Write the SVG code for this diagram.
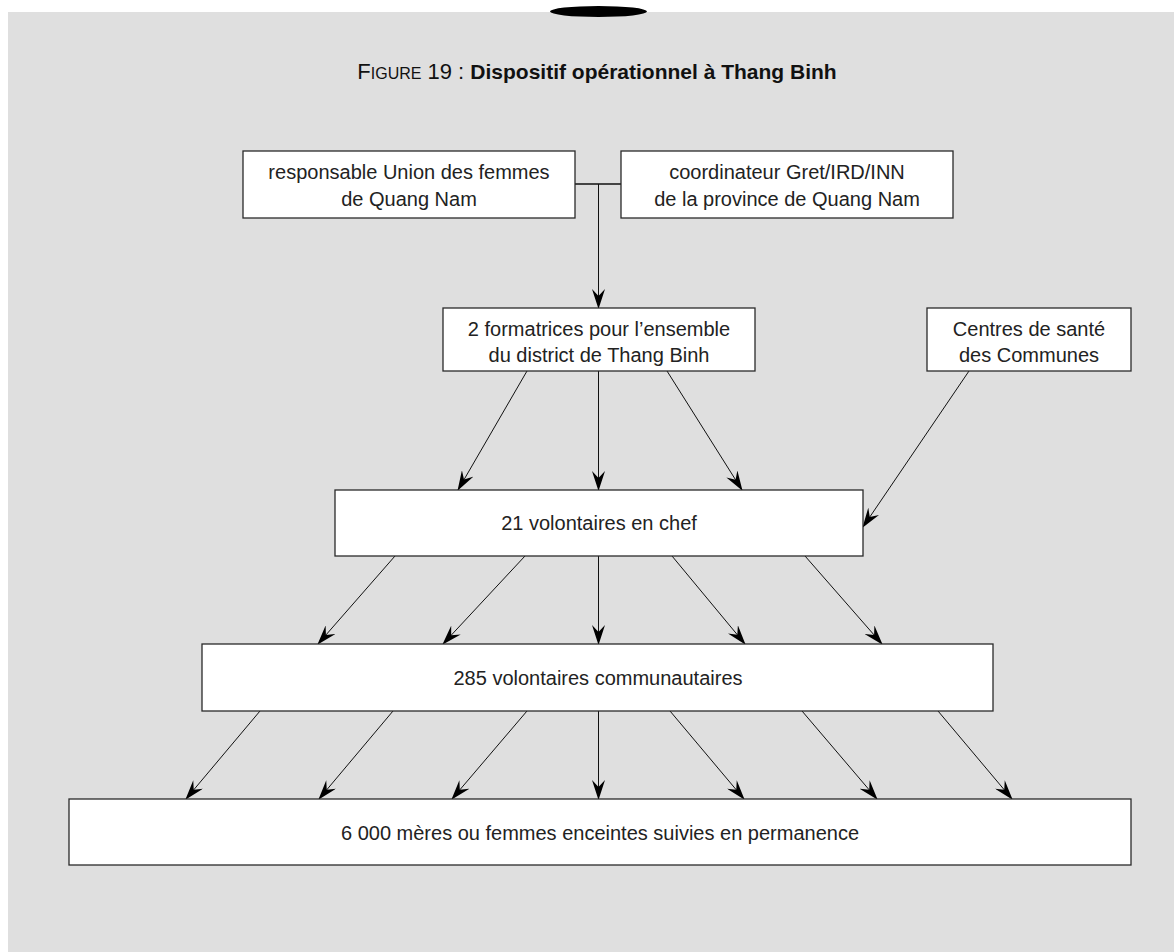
<svg xmlns="http://www.w3.org/2000/svg" width="1174" height="952" viewBox="0 0 1174 952">
  <style>
    .box { fill: #ffffff; stroke: #2a2a2a; stroke-width: 1.3; }
    .lbl { font-family: "Liberation Sans", Arial, sans-serif; font-size: 20px; fill: #222222; text-anchor: middle; }
    .edge { fill: none; stroke: #111111; stroke-width: 1; marker-end: url(#arrow); }
    .title { font-family: "Liberation Sans", Arial, sans-serif; fill: #111111; }
  </style>
  <defs>
    <!-- notched filled arrowhead -->
    <marker id="arrow" markerUnits="userSpaceOnUse" viewBox="0 0 20 13" markerWidth="20" markerHeight="13" refX="19" refY="6.5" orient="auto">
      <path d="M0,0 L20,6.5 L0,13 L7,6.5 Z" fill="#000000"/>
    </marker>
  </defs>

  <!-- page background -->
  <rect x="8" y="12" width="1166" height="940" fill="#dfdfdf"/>
  <ellipse cx="598.5" cy="11.5" rx="48.5" ry="5.5" fill="#000000"/>

  <!-- heading -->
  <text class="title" x="597" y="79" text-anchor="middle" font-size="21"><tspan font-size="22" font-weight="300">F</tspan><tspan font-size="16" font-weight="300">IGURE</tspan><tspan font-size="22" font-weight="300"> 19 : </tspan><tspan font-weight="bold">Dispositif opérationnel à Thang Binh</tspan></text>

  <!-- connectors -->
  <g id="connectors">
    <path d="M575,184 H621" fill="none" stroke="#111" stroke-width="1.3"/>
    <path d="M598.5,184 V308" class="edge" stroke-width="1.3"/>

    <path d="M527,371 L458,490" class="edge"/>
    <path d="M598.5,371 V490" class="edge"/>
    <path d="M667,371 L742,490" class="edge"/>
    <path d="M969,371 L863,527" class="edge"/>

    <path d="M395,556 L318,644" class="edge"/>
    <path d="M525,556 L443,644" class="edge"/>
    <path d="M598.5,556 V644" class="edge"/>
    <path d="M672,556 L745,644" class="edge"/>
    <path d="M805,556 L882,644" class="edge"/>

    <path d="M260,711 L186,799" class="edge"/>
    <path d="M393,711 L319,799" class="edge"/>
    <path d="M527,711 L452,799" class="edge"/>
    <path d="M598.5,711 V799" class="edge"/>
    <path d="M670,711 L744,799" class="edge"/>
    <path d="M802,711 L877,799" class="edge"/>
    <path d="M938,711 L1012,799" class="edge"/>
  </g>

  <g id="n-union">
    <rect class="box" x="243" y="151" width="332" height="67"/>
    <text class="lbl" x="409" y="179">responsable Union des femmes</text>
    <text class="lbl" x="409" y="206">de Quang Nam</text>
  </g>

  <g id="n-coordinateur">
    <rect class="box" x="621" y="151" width="332" height="67"/>
    <text class="lbl" x="787" y="179">coordinateur Gret/IRD/INN</text>
    <text class="lbl" x="787" y="206">de la province de Quang Nam</text>
  </g>

  <g id="n-formatrices">
    <rect class="box" x="443" y="308" width="312" height="63"/>
    <text class="lbl" x="599" y="336">2 formatrices pour l’ensemble</text>
    <text class="lbl" x="599" y="362">du district de Thang Binh</text>
  </g>

  <g id="n-centres">
    <rect class="box" x="927" y="308" width="204" height="63"/>
    <text class="lbl" x="1029" y="336">Centres de santé</text>
    <text class="lbl" x="1029" y="362">des Communes</text>
  </g>

  <g id="n-chefs">
    <rect class="box" x="335" y="490" width="528" height="66"/>
    <text class="lbl" x="599" y="530">21 volontaires en chef</text>
  </g>

  <g id="n-communautaires">
    <rect class="box" x="202" y="644" width="791" height="67"/>
    <text class="lbl" x="598" y="685">285 volontaires communautaires</text>
  </g>

  <g id="n-meres">
    <rect class="box" x="69" y="799" width="1062" height="66"/>
    <text class="lbl" x="600" y="840">6 000 mères ou femmes enceintes suivies en permanence</text>
  </g>
</svg>
